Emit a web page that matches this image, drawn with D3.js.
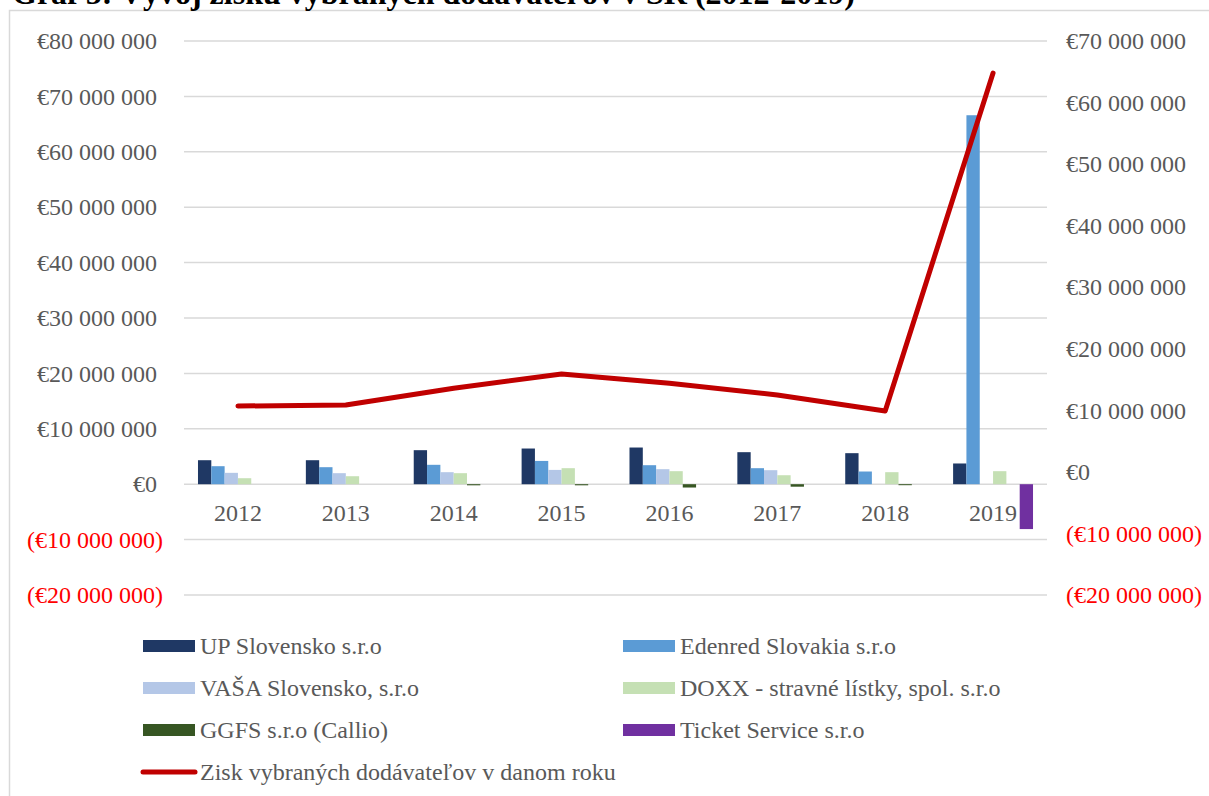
<!DOCTYPE html>
<html>
<head>
<meta charset="utf-8">
<script src="https://cdn.jsdelivr.net/npm/d3@7"></script>
<style>
  html, body { margin: 0; padding: 0; background: #ffffff; }
  svg { display: block; font-family: "Liberation Serif", "Times New Roman", serif; }
</style>
</head>
<body>
<svg id="chart" width="1209" height="796"></svg>
<script>
// ---- Data ----
const title = "Graf 5: Vývoj zisku vybraných dodávateľov v SR (2012-2019)";
const years = ["2012", "2013", "2014", "2015", "2016", "2017", "2018", "2019"];
const seriesNames = [
  "UP Slovensko s.r.o",
  "Edenred Slovakia s.r.o",
  "VAŠA Slovensko, s.r.o",
  "DOXX - stravné lístky, spol. s.r.o",
  "GGFS s.r.o (Callio)",
  "Ticket Service s.r.o"
];
const upSlovensko = [4330000, 4330000, 6140000, 6440000, 6620000, 5780000, 5600000, 3740000];
const edenred     = [3250000, 3070000, 3500000, 4200000, 3430000, 2890000, 2290000, 66600000];
const vasa        = [2050000, 1990000, 2170000, 2580000, 2710000, 2530000, 0, 0];
const doxx        = [1080000, 1440000, 1990000, 2890000, 2350000, 1620000, 2170000, 2350000];
const ggfs        = [0, 0, -200000, -200000, -600000, -450000, -150000, 0];
const ticket      = [0, 0, 0, 0, 0, 0, 0, -8100000];
const lineName = "Zisk vybraných dodávateľov v danom roku";
const totalProfit = [10700000, 10860000, 13600000, 15900000, 14400000, 12500000, 9900000, 64800000];
const leftTicks  = [-20000000, -10000000, 0, 10000000, 20000000, 30000000, 40000000, 50000000, 60000000, 70000000, 80000000];
const rightTicks = [-20000000, -10000000, 0, 10000000, 20000000, 30000000, 40000000, 50000000, 60000000, 70000000];

const seriesValues = [upSlovensko, edenred, vasa, doxx, ggfs, ticket];
const colors = ["#1f3864", "#5b9bd5", "#b4c7e7", "#c5e0b4", "#375623", "#7030a0"];
const lineColor = "#c00000";
const textColor = "#595959";
const negColor = "#ff0000";

// ---- Layout ----
const svg = d3.select("#chart");
const plotLeft = 184, plotRight = 1047, plotTop = 41, plotBottom = 595;

const x = d3.scaleBand().domain(years).range([plotLeft, plotRight]).padding(0);
const x1 = d3.scaleBand().domain(seriesNames).range([0, x.bandwidth()]).paddingInner(0).paddingOuter(1.05);
const yL = d3.scaleLinear().domain([-20000000, 80000000]).range([plotBottom, plotTop]);
const yR = d3.scaleLinear().domain([-20000000, 70000000]).range([plotBottom, plotTop]);

const fmt = v => {
  const s = d3.format(",")(Math.abs(v)).replace(/,/g, " ");
  return v < 0 ? "(€" + s + ")" : "€" + s;
};

// Chart border (clipped by window on right/bottom)
svg.append("rect")
  .attr("x", 9.5).attr("y", 10.5)
  .attr("width", 1230).attr("height", 820)
  .attr("fill", "#ffffff").attr("stroke", "#d9d9d9").attr("stroke-width", 1.5);

// Title (partly clipped at top, as in reference)
svg.append("text")
  .attr("x", 12).attr("y", 4)
  .attr("font-size", 32).attr("font-weight", "bold").attr("fill", "#000000")
  .text(title);

// Gridlines
svg.append("g").selectAll("line").data(leftTicks).join("line")
  .attr("x1", plotLeft).attr("x2", plotRight)
  .attr("y1", d => yL(d)).attr("y2", d => yL(d))
  .attr("stroke", "#d9d9d9").attr("stroke-width", 1.5);

// Left axis labels
const leftAxis = d3.axisLeft(yL).tickValues(leftTicks).tickFormat(fmt).tickSize(0).tickPadding(0);
const gL = svg.append("g").attr("transform", "translate(157,0)").call(leftAxis);
gL.select(".domain").remove();
gL.selectAll("text")
  .attr("font-family", "Liberation Serif, serif")
  .attr("font-size", 24)
  .attr("fill", d => d < 0 ? negColor : textColor)
  .attr("dx", d => d < 0 ? 6 : 0);

// Right axis labels
const rightAxis = d3.axisRight(yR).tickValues(rightTicks).tickFormat(fmt).tickSize(0).tickPadding(0);
const gR = svg.append("g").attr("transform", "translate(1066,0)").call(rightAxis);
gR.select(".domain").remove();
gR.selectAll("text")
  .attr("font-family", "Liberation Serif, serif")
  .attr("font-size", 24)
  .attr("fill", d => d < 0 ? negColor : textColor);

// Bars
const barData = [];
years.forEach((yr, i) => {
  seriesNames.forEach((s, j) => {
    barData.push({ year: yr, series: s, value: seriesValues[j][i], color: colors[j] });
  });
});
svg.append("g").selectAll("rect").data(barData.filter(d => d.value !== 0)).join("rect")
  .attr("x", d => x(d.year) + x1(d.series))
  .attr("width", x1.bandwidth())
  .attr("y", d => Math.min(yL(d.value), yL(0)))
  .attr("height", d => Math.max(Math.abs(yL(d.value) - yL(0)), 1))
  .attr("fill", d => d.color);

// Year labels
svg.append("g").selectAll("text").data(years).join("text")
  .attr("x", d => x(d) + x.bandwidth() / 2)
  .attr("y", 521)
  .attr("text-anchor", "middle")
  .attr("font-size", 24).attr("fill", textColor)
  .text(d => d);

// Line (secondary axis)
const line = d3.line()
  .x((d, i) => x(years[i]) + x.bandwidth() / 2)
  .y(d => yR(d));
svg.append("path")
  .datum(totalProfit)
  .attr("d", line)
  .attr("fill", "none")
  .attr("stroke", lineColor)
  .attr("stroke-width", 5)
  .attr("stroke-linecap", "round")
  .attr("stroke-linejoin", "round");

// Legend
const legendCols = [143, 623];
const legendRows = [646, 688, 730, 772];
const legend = svg.append("g");
seriesNames.forEach((s, j) => {
  const cx = legendCols[j % 2];
  const cy = legendRows[Math.floor(j / 2)];
  legend.append("rect")
    .attr("x", cx).attr("y", cy - 6)
    .attr("width", 52).attr("height", 12)
    .attr("fill", colors[j]);
  legend.append("text")
    .attr("x", cx + 57).attr("y", cy)
    .attr("dy", "0.33em")
    .attr("font-size", 24).attr("fill", textColor)
    .text(s);
});
legend.append("line")
  .attr("x1", 143).attr("x2", 195)
  .attr("y1", legendRows[3]).attr("y2", legendRows[3])
  .attr("stroke", lineColor).attr("stroke-width", 5).attr("stroke-linecap", "round");
legend.append("text")
  .attr("x", 200).attr("y", legendRows[3])
  .attr("dy", "0.33em")
  .attr("font-size", 24).attr("fill", textColor)
  .text(lineName);
</script>
</body>
</html>
